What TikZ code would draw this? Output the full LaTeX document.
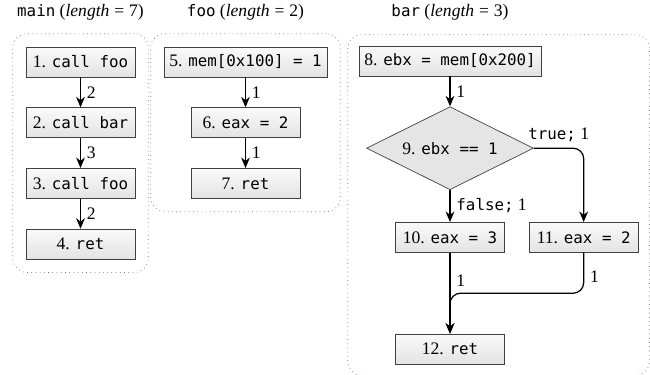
\documentclass[tikz,border=0pt]{standalone}
\usepackage{fontspec}
\setmainfont{Liberation Serif}
\setmonofont{DejaVu Sans Mono}[Scale=0.9]
\usetikzlibrary{positioning,fit,calc,arrows.meta,shapes.geometric}

\newcommand{\instr}[2]{#1. \texttt{#2}}

\begin{document}
\begin{tikzpicture}[
    x=0.02cm, y=-0.02cm,
    node distance=0.6cm,
    block/.style={
        rectangle,
        draw=black!75,
        top color=gray!4,
        bottom color=gray!22,
        minimum width=2.18cm,
        minimum height=0.6cm,
        inner sep=3pt
    },
    cond/.style={
        diamond,
        draw=black!75,
        fill=gray!20,
        aspect=2,
        inner sep=0pt,
        minimum width=3.34cm,
        minimum height=1.66cm
    },
    func/.style={
        draw=black!55,
        dotted,
        rounded corners=8pt,
        inner sep=0.26cm
    },
    flow/.style={
        -{Stealth[length=6pt,width=5pt]},
        line width=0.7pt
    }
]
\useasboundingbox (0,0) rectangle (650,375);

% main
\node[block] (n1) at (80.5,62) {\instr{1}{call foo}};
\node[block, below=of n1] (n2) {\instr{2}{call bar}};
\node[block, below=of n2] (n3) {\instr{3}{call foo}};
\node[block, below=of n3] (n4) {\instr{4}{ret}};

% foo
\node[block] (n5) at (245.5,62) {\instr{5}{mem[0x100] = 1}};
\node[block, below=of n5] (n6) {\instr{6}{eax = 2}};
\node[block, below=of n6] (n7) {\instr{7}{ret}};

% bar
\node[block] (n8) at (450,61) {\instr{8}{ebx = mem[0x200]}};
\node[cond, below=of n8] (n9) {\instr{9}{ebx == 1}};
\node[block, below=0.64cm of n9] (n10) {\instr{10}{eax = 3}};
\node[block, right=0.48cm of n10] (n11) {\instr{11}{eax = 2}};
\node[block, below=1.62cm of n10] (n12) {\instr{12}{ret}};

% Riquadri delle funzioni
\node[func, fit=(n1)(n4)] (gmain) {};
\node[func, fit=(n5)(n7)] (gfoo) {};
\node[func, inner sep=0.22cm, fit=(n8)(n11)(n12)] (gbar) {};

% Titoli
\coordinate (ttop) at (0,12);
\node (tmain) at (n1 |- ttop) {\texttt{main} (\textit{length}\;=\;7)};
\node (tfoo) at (n5 |- ttop) {\texttt{foo} (\textit{length}\;=\;2)};
\node (tbar) at (n8 |- ttop) {\texttt{bar} (\textit{length}\;=\;3)};

% Archi
\draw[flow] (n1) -- (n2) node[midway, right] {2};
\draw[flow] (n2) -- (n3) node[midway, right] {3};
\draw[flow] (n3) -- (n4) node[midway, right] {2};
\draw[flow] (n5) -- (n6) node[midway, right] {1};
\draw[flow] (n6) -- (n7) node[midway, right] {1};
\draw[flow] (n8) -- (n9) node[midway, right] {1};
\draw[flow, rounded corners=6pt] (n9.east) -| (n11.north) node[pos=0.25, above] {\texttt{true;} 1};
\draw[flow] (n9) -- (n10) node[midway, right] {\texttt{false;} 1};
\coordinate (join) at ($(n10.south)!0.5!(n12.north)$);
\draw[flow] (n10) -- (n12) node[pos=0.35, right] {1};
\draw[flow, rounded corners=6pt] (n11.south) |- node[pos=0.3, right] {1} (join) -- (n12.north);

\end{tikzpicture}
\end{document}
